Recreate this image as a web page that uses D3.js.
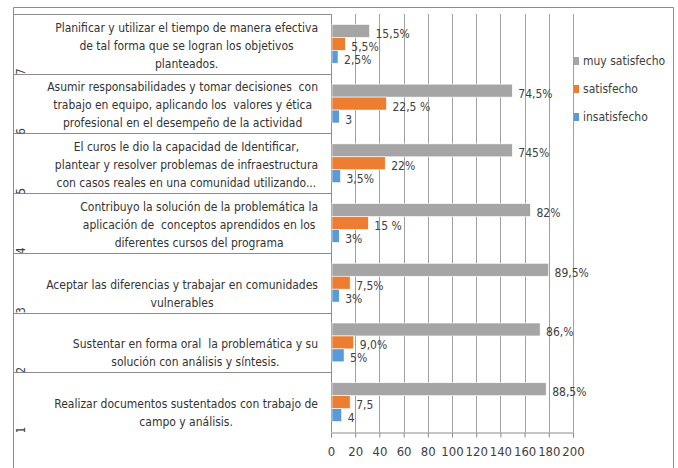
<!DOCTYPE html>
<html>
<head>
<meta charset="utf-8">
<script src="https://cdn.jsdelivr.net/npm/d3@7"></script>
<style>
  body { margin: 0; background: #fff; }
  text { font-family: "Liberation Sans Narrow", "DejaVu Sans Condensed", sans-serif; white-space: pre; }
</style>
</head>
<body>
<div id="container"></div>
<script>
let w = 678;
let h = 468;

// categories bottom (1) to top (7)
let categories = ["1", "2", "3", "4", "5", "6", "7"];
let categoryText = [
  ["Realizar documentos sustentados con trabajo de", "campo y análisis."],
  ["Sustentar en forma oral  la problemática y su", "solución con análisis y síntesis."],
  ["Aceptar las diferencias y trabajar en comunidades", "vulnerables"],
  ["Contribuyo la solución de la problemática la", "aplicación de  conceptos aprendidos en los", "diferentes cursos del programa"],
  ["El curos le dio la capacidad de Identificar,", "plantear y resolver problemas de infraestructura", "con casos reales en una comunidad utilizando..."],
  ["Asumir responsabilidades y tomar decisiones  con", "trabajo en equipo, aplicando los  valores y ética", "profesional en el desempeño de la actividad"],
  ["Planificar y utilizar el tiempo de manera efectiva", "de tal forma que se logran los objetivos", "planteados."]
];
let seriesNames = ["muy satisfecho", "satisfecho", "insatisfecho"];
let seriesColors = ["#a5a5a5", "#ed7d31", "#5b9bd5"];

let muyValues = [177, 172, 179, 164, 149, 149, 31];
let satValues = [15, 18, 15, 30, 44, 45, 11];
let insValues = [8, 10, 6, 6, 7, 6, 5];

let muyLabels = ["88,5%", "86,%", "89,5%", "82%", "745%", "74,5%", "15,5%"];
let satLabels = ["7,5", "9,0%", "7,5%", "15 %", "22%", "22,5 %", "5,5%"];
let insLabels = ["4", "5%", "3%", "3%", "3,5%", "3", "2,5%"];

let xTicks = [0, 20, 40, 60, 80, 100, 120, 140, 160, 180, 200];

let plotLeft = 331, plotRight = 573, plotTop = 14, plotBottom = 432;

let svg = d3.select("#container").append("svg")
  .attr("width", w)
  .attr("height", h);

// outer frame
svg.append("path")
  .attr("d", "M13.5," + h + "V7.5H673.5V" + h)
  .attr("fill", "none")
  .attr("stroke", "#8c8c8c");

let xScale = d3.scaleLinear().domain([0, 200]).range([plotLeft, plotRight]);
let yScale = d3.scaleBand().domain(categories.slice().reverse()).range([plotTop, plotBottom])
  .paddingInner(0.35).paddingOuter(0.175);
let subScale = d3.scaleBand().domain(seriesNames).range([0, yScale.bandwidth()]);
let step = yScale.step();

function bandTop(c) { return yScale(c) - step * 0.175; }

// grid
svg.append("g").selectAll("line")
  .data(xTicks)
  .join("line")
  .attr("x1", d => Math.round(xScale(d)) + 0.5)
  .attr("x2", d => Math.round(xScale(d)) + 0.5)
  .attr("y1", plotTop)
  .attr("y2", plotBottom)
  .attr("stroke", "#a0a0a0");

// x axis
let xAxis = d3.axisBottom(xScale).tickValues(xTicks).tickSize(5).tickPadding(9);
let xg = svg.append("g")
  .attr("transform", "translate(0," + (plotBottom + 0.5) + ")")
  .call(xAxis);
xg.select(".domain").attr("stroke", "#8c8c8c");
xg.selectAll(".tick line").attr("stroke", "#8c8c8c");
xg.selectAll(".tick text")
  .attr("font-size", 13)
  .attr("fill", "#404040")
  .style("font-family", "'Liberation Sans Narrow', 'DejaVu Sans Condensed', sans-serif");

// category table lines
let rowLines = categories.map(c => bandTop(c)).concat([plotTop]);
svg.append("g").selectAll("line")
  .data(rowLines)
  .join("line")
  .attr("x1", 13)
  .attr("x2", plotLeft)
  .attr("y1", d => Math.round(d) + 0.5)
  .attr("y2", d => Math.round(d) + 0.5)
  .attr("stroke", "#8c8c8c");
svg.append("line")
  .attr("x1", plotLeft + 0.5).attr("x2", plotLeft + 0.5)
  .attr("y1", plotTop).attr("y2", plotBottom)
  .attr("stroke", "#8c8c8c");

// rotated category numbers, clipped to their row
let defs = svg.append("defs");
categories.forEach((c, i) => {
  defs.append("clipPath").attr("id", "clip" + i)
    .append("rect")
    .attr("x", 13).attr("y", bandTop(c))
    .attr("width", 30).attr("height", step);
});
svg.append("g").selectAll("g")
  .data(categories)
  .join("g")
  .attr("clip-path", (d, i) => "url(#clip" + i + ")")
  .append("text")
  .attr("transform", d => "translate(25," + (bandTop(d) + step + 1.5) + ") rotate(-90)")
  .attr("font-size", 12)
  .attr("fill", "#404040")
  .text(d => d);

// category labels: block right-aligned, lines centered
let catGroups = svg.append("g").selectAll("g")
  .data(categories)
  .join("g");
catGroups.each(function (c, i) {
  let g = d3.select(this);
  let lines = categoryText[i];
  let yb = bandTop(c) + step - 10;
  let texts = g.selectAll("text")
    .data(lines)
    .join("text")
    .attr("y", (d, j) => yb - (lines.length - 1 - j) * 18)
    .attr("dominant-baseline", "central")
    .attr("text-anchor", "middle")
    .attr("font-size", 12)
    .attr("fill", "#333")
    .text(d => d);
  let maxW = 0;
  texts.each(function () { maxW = Math.max(maxW, this.getComputedTextLength()); });
  texts.attr("x", 318 - maxW / 2);
});

// bars
let table = categories.map((c, i) => ({
  cat: c,
  vals: [
    { s: seriesNames[0], v: muyValues[i], label: muyLabels[i], color: seriesColors[0] },
    { s: seriesNames[1], v: satValues[i], label: satLabels[i], color: seriesColors[1] },
    { s: seriesNames[2], v: insValues[i], label: insLabels[i], color: seriesColors[2] }
  ]
}));

let groups = svg.append("g").selectAll("g")
  .data(table)
  .join("g")
  .attr("transform", d => "translate(0," + yScale(d.cat) + ")");

groups.selectAll("rect")
  .data(d => d.vals)
  .join("rect")
  .attr("x", xScale(0) + 1)
  .attr("y", d => subScale(d.s))
  .attr("width", d => xScale(d.v) - xScale(0))
  .attr("height", subScale.bandwidth())
  .attr("fill", d => d.color)
  .attr("stroke", "#fff")
  .attr("stroke-width", 0.6);

groups.selectAll("text")
  .data(d => d.vals)
  .join("text")
  .attr("x", d => xScale(d.v) + 7)
  .attr("y", d => subScale(d.s) + subScale.bandwidth() / 2 + 3)
  .attr("dominant-baseline", "central")
  .attr("font-size", 12)
  .attr("fill", "#404040")
  .text(d => d.label);

// legend
let legend = svg.append("g").selectAll("g")
  .data(seriesNames)
  .join("g")
  .attr("transform", (d, i) => "translate(574," + (61 + i * 28) + ")");
legend.append("rect")
  .attr("x", 0).attr("y", -4)
  .attr("width", 5).attr("height", 8)
  .attr("fill", (d, i) => seriesColors[i]);
legend.append("text")
  .attr("x", 9)
  .attr("dominant-baseline", "central")
  .attr("font-size", 12)
  .attr("fill", "#404040")
  .text(d => d);
</script>
</body>
</html>
